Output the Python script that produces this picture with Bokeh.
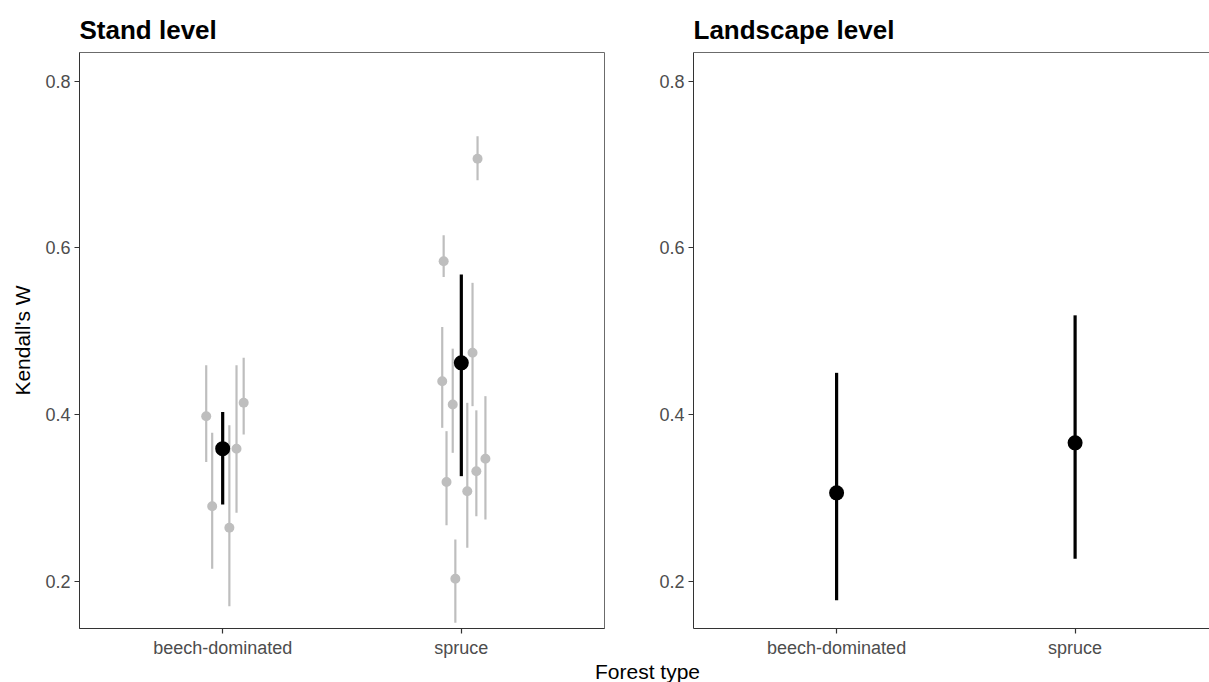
from bokeh.plotting import figure
from bokeh.models import Range1d, FixedTicker, Label, LinearAxis
from bokeh.layouts import column, row
from bokeh.embed import file_html
from bokeh.resources import INLINE

# ---------------- data ----------------
categories = ["beech-dominated", "spruce"]
cat_pos = [1, 2]
y_ticks = [0.2, 0.4, 0.6, 0.8]

# Stand level: individual stands (grey), category index + jitter
stand_cat = [1, 1, 1, 1, 1, 2, 2, 2, 2, 2, 2, 2, 2, 2, 2]
stand_jitter = [-0.069, -0.044, 0.028, 0.058, 0.088,
                0.068, -0.074, 0.047, -0.080, -0.036, -0.062, 0.025, 0.063, 0.101, -0.025]
stand_w = [0.398, 0.290, 0.264, 0.359, 0.414,
           0.707, 0.584, 0.474, 0.440, 0.412, 0.319, 0.308, 0.332, 0.347, 0.203]
stand_lo = [0.343, 0.215, 0.170, 0.282, 0.376,
            0.681, 0.565, 0.410, 0.384, 0.354, 0.267, 0.240, 0.278, 0.274, 0.150]
stand_hi = [0.459, 0.378, 0.387, 0.459, 0.468,
            0.734, 0.615, 0.558, 0.505, 0.479, 0.380, 0.414, 0.405, 0.422, 0.250]

# Stand level: mean per forest type (black)
stand_mean = [0.359, 0.462]
stand_mean_lo = [0.292, 0.326]
stand_mean_hi = [0.403, 0.568]

# Landscape level
land_mean = [0.306, 0.366]
land_lo = [0.177, 0.227]
land_hi = [0.450, 0.519]

# ---------------- styling ----------------
FONT = "Liberation Sans"
GREY = "#bebebe"
Y0, Y1 = 0.1432, 0.8344


def make_panel(frame_w, mbl, mbr, x_end, title, ylabel=None, outline=True):
    p = figure(frame_width=frame_w, frame_height=576,
               min_border_left=mbl, min_border_right=mbr,
               min_border_top=52, min_border_bottom=30,
               x_range=Range1d(0.4, x_end), y_range=Range1d(Y0, Y1),
               output_backend="svg", toolbar_location=None)
    p.xgrid.visible = False
    p.ygrid.visible = False
    p.outline_line_color = "#6b6b6b" if outline else None
    p.outline_line_width = 1
    p.background_fill_color = "white"
    p.border_fill_color = "white"

    p.title.text = title
    p.title.align = "left"
    p.title.text_font = FONT
    p.title.text_font_size = "26px"
    p.title.text_font_style = "bold"
    p.title.text_color = "black"
    p.title.standoff = 15

    p.xaxis.ticker = FixedTicker(ticks=cat_pos)
    p.xaxis.major_label_overrides = {c: n for c, n in zip(cat_pos, categories)}
    p.xaxis.axis_label = None
    p.yaxis.ticker = FixedTicker(ticks=y_ticks)
    for ax in (p.xaxis[0], p.yaxis[0]):
        ax.axis_line_color = "#333333"
        ax.axis_line_width = 1
        ax.major_tick_line_color = "#333333"
        ax.major_tick_line_width = 1.2
        ax.major_tick_out = 5
        ax.major_tick_in = 0
        ax.minor_tick_line_color = None
        ax.major_label_text_font = FONT
        ax.major_label_text_font_size = "18px"
        ax.major_label_text_color = "#4d4d4d"
        ax.major_label_standoff = 4
    if ylabel:
        p.yaxis.axis_label = ylabel
        p.yaxis.axis_label_text_font = FONT
        p.yaxis.axis_label_text_font_size = "21px"
        p.yaxis.axis_label_text_font_style = "normal"
        p.yaxis.axis_label_text_color = "black"
        p.yaxis.axis_label_standoff = 8
    else:
        p.yaxis.axis_label = None

    if not outline:
        top = LinearAxis(ticker=FixedTicker(ticks=[]), axis_line_color="#6b6b6b",
                         axis_label=None,
                         major_label_text_font_size="0px", minor_tick_line_color=None,
                         major_tick_line_color=None)
        p.add_layout(top, "above")
    return p


# ---------------- Stand level ----------------
p1 = make_panel(525, 79, 36, 2.6, "Stand level", ylabel="Kendall's W")
sx = [c + j for c, j in zip(stand_cat, stand_jitter)]
p1.segment(x0=sx, y0=stand_lo, x1=sx, y1=stand_hi, line_color=GREY, line_width=2.2)
p1.scatter(x=sx, y=stand_w, size=10, fill_color=GREY, line_color=None)
p1.segment(x0=cat_pos, y0=stand_mean_lo, x1=cat_pos, y1=stand_mean_hi,
           line_color="black", line_width=3.2)
p1.scatter(x=cat_pos, y=stand_mean, size=15, fill_color="black", line_color=None)

# ---------------- Landscape level ----------------
x_end2 = 0.4 + 516 / 238.5
p2 = make_panel(516, 53, 0, x_end2, "Landscape level", outline=False)
p2.segment(x0=cat_pos, y0=land_lo, x1=cat_pos, y1=land_hi,
           line_color="black", line_width=3.2)
p2.scatter(x=cat_pos, y=land_mean, size=15, fill_color="black", line_color=None)

# ---------------- shared x label ----------------
p3 = figure(title=None, width=1209, height=22, x_range=Range1d(0, 1209), y_range=Range1d(0, 22),
            min_border=0, x_axis_type=None, y_axis_type=None,
            toolbar_location=None, output_backend="svg")
p3.outline_line_color = None
p3.background_fill_color = "white"
p3.border_fill_color = "white"
p3.xgrid.visible = False
p3.ygrid.visible = False
p3.add_layout(Label(x=647, y=11, text="Forest type", text_font=FONT,
                    text_font_size="21px", text_color="black",
                    text_align="center", text_baseline="alphabetic"))

layout = column(row(p1, p2), p3)
open("out.html", "w").write(file_html(layout, INLINE))
